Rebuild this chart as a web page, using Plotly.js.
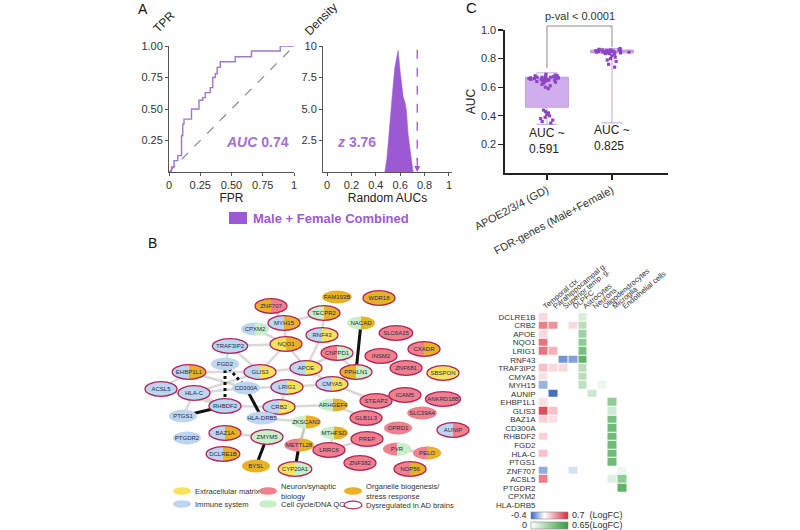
<!DOCTYPE html>
<html><head><meta charset="utf-8">
<script src="https://cdn.plot.ly/plotly-3.0.1.min.js"></script>
<style>html,body{margin:0;padding:0;background:#fff}#chart{width:800px;height:530px}</style>
</head><body><div id="chart"></div>
<script>
// ---------------- Panel A : ROC curve ----------------
const rocFPR = [0, 0.02, 0.04, 0.07, 0.10, 0.11, 0.12, 0.14, 0.18, 0.24, 0.27, 0.29, 0.33, 0.35, 0.37, 0.385, 0.41, 0.53, 0.66, 0.89, 1.0];
const rocTPR = [0, 0.04, 0.09, 0.13, 0.29, 0.38, 0.42, 0.42, 0.50, 0.57, 0.59, 0.63, 0.67, 0.75, 0.78, 0.83, 0.875, 0.915, 0.96, 1.0, 1.0];
const chanceLine = [0, 1];
const rocAUC = 0.74;
// ---------------- Panel A : random AUC density ----------------
const randAUC = [0.474, 0.49, 0.501, 0.515, 0.529, 0.545, 0.556, 0.57, 0.583, 0.60, 0.612, 0.624, 0.64, 0.651, 0.665, 0.68, 0.692, 0.706];
const randDensity = [0, 1.0, 2.2, 4.0, 5.7, 7.2, 8.3, 9.2, 9.66, 8.0, 6.8, 6.0, 5.5, 4.9, 3.0, 1.8, 0.9, 0];
const zScore = 3.76;
// ---------------- Panel C : AUC comparison ----------------
const groupLabels = ['APOE2/3/4 (GD)', 'FDR-genes (Male+Female)'];
const apoeAUC = [0.69,0.685,0.68,0.68,0.675,0.675,0.67,0.67,0.67,0.665,0.665,0.665,0.66,0.66,0.66,0.66,0.655,0.655,0.655,0.65,0.65,0.65,0.645,0.645,0.64,0.64,0.635,0.63,0.62,0.61,0.60,0.59,0.44,0.43,0.42,0.41,0.40,0.39,0.38,0.37,0.36,0.35];
const fdrAUC = [0.87,0.865,0.865,0.86,0.86,0.86,0.86,0.855,0.855,0.855,0.855,0.85,0.85,0.85,0.85,0.85,0.845,0.845,0.845,0.845,0.84,0.84,0.84,0.835,0.835,0.83,0.82,0.81,0.80,0.79,0.78,0.76,0.74];
const boxQ1 = [0.46, 0.84];
const boxMedian = [0.665, 0.85];
const boxQ3 = [0.67, 0.86];
const boxLow = [0.34, 0.35];
const boxHigh = [0.70, 0.87];
const meanAUC = ['0.591', '0.825'];
const pValText = 'p-val < 0.0001';
// ---------------- Panel B : network ----------------
const nodeNames = ['ZNF707','MYH15','CPXM2','NQO1','TRAF3IP2','FGD2','GLIS3','EHBP1L1','APOE','LRIG1','CD300A','ACSL5','HLA-C','CMYA5','RHBDF2','CRB2','ARHGEF4','STEAP2','ICAM5','ANKRD18B','PTGS1','HLA-DRB5','ZKSCAN3','GLB1L3','SLC39A4','OPRD1','AUNIP','BAZ1A','ZMYM5','MTHFSD','PREP','METTL28','LRRC6','PVR','PELO','DCLRE1B','BYSL','CYP20A1','ZNF382','NOP56','FAM193B','WDR18','TECPR2','NACAD','RNF43','SLC6A15','CNPPD1','INSM2','CXADR','PPHLN1','ZNF681','SBSPON','PTGDR2'];
const nodeX = [271,284,255,286,230,225,260,189,306,287,246,161,194,332,225,279,333,376,405,443,183,262,306,366,422,398,453,225,267,334,367,299,329,397,427,223,256,295,360,410,337,379,324,361,322,396,337,381,424,356,406,443,187];
const nodeY = [306,323,329,344,346,364,372,372,368,387,388,389,393,384,406,407,405,401,395,399,416,418,422,418,413,428,430,433,437,433,439,445,450,449,453,454,466,469,463,469,297,298,313,323,335,333,353,356,349,372,368,373,438];
// categories: Y extracellular matrix, I immune, N neuron/synaptic, C cell cycle/DNA QC, O organelle/stress
const nodeCat1 = ['O','I','I','Y','I','I','I','I','I','I','I','I','I','I','I','I','C','N','N','N','I','I','C','N','N','N','I','I','C','C','N','N','N','N','N','I','O','Y','N','N','O','O','C','C','I','N','N','N','N','O','N','Y','I'];
const nodeCat2 = ['N','O','C','O','','','Y','O','Y','Y','','','','Y','','Y','O','','','','','','O','','','','N','O','','O','','O','','C','O','O','','C','','O','','','O','O','Y','','C','','O','C','','',''];
const nodeDysreg = [1,1,0,1,1,0,1,1,1,1,0,1,1,1,1,1,0,1,1,1,0,0,0,1,0,0,1,1,1,0,1,0,1,0,0,1,0,1,1,1,0,1,1,0,1,1,1,1,1,1,1,1,0];
const greyEdges = [['TRAF3IP2','GLIS3'],['TRAF3IP2','FGD2'],['TRAF3IP2','NQO1'],['EHBP1L1','GLIS3'],['EHBP1L1','CD300A'],['EHBP1L1','ACSL5'],['HLA-C','CD300A'],['HLA-C','GLIS3'],['HLA-C','RHBDF2'],['ACSL5','RHBDF2'],['GLIS3','APOE'],['GLIS3','NQO1'],['NQO1','APOE'],['NQO1','MYH15'],['MYH15','TECPR2'],['CPXM2','NQO1'],['APOE','RNF43'],['APOE','CNPPD1'],['APOE','CMYA5'],['LRIG1','CMYA5'],['CRB2','LRIG1'],['CRB2','ARHGEF4'],['CD300A','LRIG1'],['RHBDF2','CRB2'],['PTGS1','HLA-C'],['HLA-DRB5','ZKSCAN3'],['BAZ1A','ZMYM5'],['RNF43','TECPR2'],['CNPPD1','PPHLN1'],['CMYA5','PPHLN1'],['ZKSCAN3','METTL28'],['MTHFSD','LRRC6'],['ARHGEF4','GLB1L3'],['CYP20A1','ZKSCAN3'],['PVR','PELO'],['LRRC6','PREP'],['ZNF707','MYH15'],['CMYA5','STEAP2']];
const blackEdges = [['NACAD','PPHLN1'],['ZMYM5','BYSL'],['METTL28','CYP20A1'],['CD300A','HLA-DRB5'],['RHBDF2','PTGS1']];
const dashedEdges = [['FGD2','RHBDF2'],['FGD2','CD300A']];
const categoryLegend = [['Y','Extracellular matrix'],['I','Immune system'],['N','Neuron/synaptic<br>biology'],['C','Cell cycle/DNA QC'],['O','Organelle biogenesis/<br>stress response'],['D','Dysregulated in AD brains']];
// ---------------- Panel B : heatmap ----------------
const hmGenes = ['DCLRE1B','CRB2','APOE','NQO1','LRIG1','RNF43','TRAF3IP2','CMYA5','MYH15','AUNIP','EHBP1L1','GLIS3','BAZ1A','CD300A','RHBDF2','FGD2','HLA-C','PTGS1','ZNF707','ACSL5','PTGDR2','CPXM2','HLA-DRB5'];
const hmRegions = ['Temporal ctx.','Parahippocampal g.','Superior temp. g.','DLPFC'];
const hmCellTypes = ['Astrocytes','Neurons','Oligodendrocytes','Microglia','Endothelial cells'];
const regionLogFC = [
 [0.12,null,null,null],[0.42,0.35,null,0.12],[0.12,null,null,null],[0.45,null,null,null],[0.45,0.25,null,null],
 [null,null,-0.28,-0.25],[0.2,0.12,0.12,null],[0.1,null,null,null],[-0.2,null,null,null],[null,-0.38,null,null],
 [0.1,null,null,null],[0.58,0.2,null,null],[0.15,0.1,null,null],[null,null,null,null],[0.15,null,null,null],
 [null,null,null,null],[0.2,null,null,null],[null,null,null,null],[-0.22,null,null,-0.08],[0.42,null,null,null],
 [null,null,null,null],[null,null,null,null],[null,null,null,null]];
const cellLogFC = [
 [0.12,null,null,null,null],[0.22,null,null,null,null],[0.3,null,null,null,null],[0.35,null,null,null,null],[0.42,null,null,null,null],
 [0.5,null,null,null,null],[0.22,null,null,null,null],[0.22,null,null,null,null],[0.2,null,0.06,null,null],[null,0.15,null,null,null],
 [null,null,null,0.35,null],[null,null,null,0.15,null],[null,null,null,0.42,null],[null,null,null,0.45,null],[null,null,null,0.45,null],
 [null,null,null,0.45,null],[null,null,null,0.45,null],[null,null,null,0.45,null],[null,null,null,null,0.05],[null,null,null,0.1,0.35],
 [null,null,null,null,0.5],[null,null,null,null,null],[null,null,null,null,null]];

// ================= drawing =================
const W = 800, H = 530;
const px = v => v / W, py = v => 1 - v / H;
const PURPLE = '#9b5ad2';
const FONT = 'Liberation Sans, Arial, sans-serif';
const catColor = {Y:'#f8e45c', I:'#bdd5ef', N:'#f0808b', C:'#c9efc6', O:'#e8b224'};
const idx = n => nodeNames.indexOf(n);

const traces = [];
// ROC
traces.push({x: chanceLine, y: chanceLine, mode:'lines', line:{color:'#8a8a8a', width:1.2, dash:'dash'}, xaxis:'x', yaxis:'y', hoverinfo:'skip'});
traces.push({x: rocFPR, y: rocTPR, mode:'lines', line:{color:'#9d78cf', width:1.4, shape:'hv'}, xaxis:'x', yaxis:'y', cliponaxis:false});
// density
traces.push({x: randAUC, y: randDensity, mode:'lines', fill:'tozeroy', fillcolor:PURPLE, line:{color:PURPLE, width:0.5}, xaxis:'x2', yaxis:'y2'});
traces.push({x:[rocAUC, rocAUC], y:[9.7, 0.9], mode:'lines', line:{color:PURPLE, width:1.3, dash:'dash'}, xaxis:'x2', yaxis:'y2'});
// panel C boxes
for (let i = 0; i < 2; i++) {
  traces.push({type:'box', x:[i], q1:[boxQ1[i]], median:[boxMedian[i]], q3:[boxQ3[i]], lowerfence:[boxLow[i]], upperfence:[boxHigh[i]],
    width:0.66, whiskerwidth:0.5, fillcolor:'rgba(176,118,222,0.6)', line:{color:'#c3a2e0', width:1}, boxpoints:false, xaxis:'x3', yaxis:'y3'});
}
[apoeAUC, fdrAUC].forEach((vals, i) => {
  traces.push({type:'box', y: vals, x0: i, width:0.66, boxpoints:'all', jitter:0.9, pointpos:0,
    marker:{color:'#8d45c6', size:3.2, symbol:'square'}, line:{width:0, color:'rgba(0,0,0,0)'}, fillcolor:'rgba(0,0,0,0)',
    xaxis:'x3', yaxis:'y3'});
});
// network labels
traces.push({x: nodeX, y: nodeY, text: nodeNames, mode:'text', textfont:{size:6, color:'#1e2a52', family:FONT}, xaxis:'x4', yaxis:'y4', hoverinfo:'skip', cliponaxis:false});
// heatmaps
traces.push({type:'heatmap', x: hmRegions, y: hmGenes, z: regionLogFC, zmin:-0.4, zmax:0.7, xgap:1, ygap:1,
  colorscale:[[0,'#3a68bd'],[0.364,'#ffffff'],[1,'#d8293c']], xaxis:'x5', yaxis:'y5',
  colorbar:{orientation:'h', x:px(531), xanchor:'left', y:py(511.5), yanchor:'top', lenmode:'pixels', len:37, thickness:7, showticklabels:false, ticks:'', outlinewidth:0.6, outlinecolor:'#888', xpad:0, ypad:0}});
traces.push({type:'heatmap', x: hmCellTypes, y: hmGenes, z: cellLogFC, zmin:0, zmax:0.65, xgap:1, ygap:1,
  colorscale:[[0,'#ffffff'],[1,'#2f9e3b']], xaxis:'x5', yaxis:'y5',
  colorbar:{orientation:'h', x:px(531), xanchor:'left', y:py(521.5), yanchor:'top', lenmode:'pixels', len:37, thickness:7, showticklabels:false, ticks:'', outlinewidth:0.6, outlinecolor:'#888', xpad:0, ypad:0}});

// ----- shapes -----
const shapes = [];
function edgeShapes(list, color, width, dash) {
  list.forEach(([a, b]) => {
    const i = idx(a), j = idx(b);
    shapes.push({type:'line', xref:'x4', yref:'y4', x0:nodeX[i], y0:nodeY[i], x1:nodeX[j], y1:nodeY[j], layer:'below', line:{color, width, dash}});
  });
}
edgeShapes(greyEdges, 'rgba(170,170,170,0.45)', 2.5, 'solid');
edgeShapes(blackEdges, '#111', 3, 'solid');
edgeShapes(dashedEdges, '#111', 3, 'dot');
const K = 0.5523;
nodeNames.forEach((n, i) => {
  const cx = nodeX[i], cy = nodeY[i];
  const d = nodeDysreg[i];
  const rx = (d ? 16 : 14) + Math.max(0, n.length - 6) * 0.8, ry = d ? 7.3 : 6.5;
  shapes.push({type:'circle', xref:'x4', yref:'y4', x0:cx-rx, x1:cx+rx, y0:cy-ry, y1:cy+ry, layer:'below', fillcolor:catColor[nodeCat1[i]], line:{width:0}});
  if (nodeCat2[i]) {
    const path = `M${cx},${cy-ry} C${cx+K*rx},${cy-ry} ${cx+rx},${cy-K*ry} ${cx+rx},${cy} C${cx+rx},${cy+K*ry} ${cx+K*rx},${cy+ry} ${cx},${cy+ry} Z`;
    shapes.push({type:'path', xref:'x4', yref:'y4', path, layer:'below', fillcolor:catColor[nodeCat2[i]], line:{width:0}});
  }
  if (d) shapes.push({type:'circle', xref:'x4', yref:'y4', x0:cx-rx, x1:cx+rx, y0:cy-ry, y1:cy+ry, layer:'below', fillcolor:'rgba(0,0,0,0)', line:{color:'#b0245a', width:1.3}});
});
// legend of panel A
shapes.push({type:'rect', xref:'paper', yref:'paper', x0:px(229), x1:px(247), y0:py(224), y1:py(212), fillcolor:PURPLE, line:{width:0}});
// bracket panel C
shapes.push({type:'line', xref:'x3', yref:'paper', x0:0, x1:1, y0:py(26), y1:py(26), line:{color:'#8a8a8a', width:1}});
shapes.push({type:'line', xref:'x3', yref:'paper', x0:0, x1:0, y0:py(26), y1:py(68), line:{color:'#8a8a8a', width:1}});
shapes.push({type:'line', xref:'x3', yref:'paper', x0:1, x1:1, y0:py(26), y1:py(47), line:{color:'#8a8a8a', width:1}});

// ----- annotations -----
const ann = [];
const A = (text, x, y, opt) => ann.push(Object.assign({text, x:px(x), y:py(y), xref:'paper', yref:'paper', xanchor:'center', yanchor:'middle', showarrow:false, font:{family:FONT, size:12, color:'#222'}}, opt || {}));
A('A', 143, 9, {font:{family:FONT, size:14, color:'#111'}});
A('B', 152, 243, {font:{family:FONT, size:14, color:'#111'}});
A('C', 471, 8, {font:{family:FONT, size:15, color:'#111'}});
A('TPR', 164, 22, {textangle:-45});
A('Density', 321, 19, {textangle:-45});
A('<b><i>AUC</i> ' + rocAUC.toFixed(2) + '</b>', 291, 142, {xanchor:'right', font:{family:FONT, size:14, color:'#a56fd6'}});
A('<b><i>z</i> ' + zScore.toFixed(2) + '</b>', 335, 142, {xanchor:'left', font:{family:FONT, size:14, color:'#a56fd6'}});
A('<b>Male + Female Combined</b>', 251, 218, {xanchor:'left', font:{family:FONT, size:13, color:'#9b5ad2'}});
ann.push({x:rocAUC, y:0, xref:'x2', yref:'y2', ax:rocAUC, ay:1.2, axref:'x2', ayref:'y2', showarrow:true, arrowhead:2, arrowsize:1, arrowwidth:1.2, arrowcolor:PURPLE, text:''});
// panel C
A(pValText, 580, 16, {font:{family:FONT, size:11, color:'#333'}});
[0, 1].forEach(i => ann.push({text:'AUC ~<br>' + meanAUC[i], x:i, xref:'x3', y:py(i ? 138 : 141), yref:'paper', yanchor:'middle', showarrow:false, align:'left', xanchor:'center', font:{family:FONT, size:12, color:'#222'}}));
// network legend
const legPos = [[182,491],[182,504],[268,491],[268,504],[353,491],[353,505]];
categoryLegend.forEach(([c, label], k) => {
  const [lx, ly] = legPos[k];
  shapes.push({type:'circle', xref:'paper', yref:'paper', x0:px(lx-9), x1:px(lx+9), y0:py(ly+3.8), y1:py(ly-3.8),
    fillcolor: c === 'D' ? '#ffffff' : catColor[c], line: c === 'D' ? {color:'#b0245a', width:1.2} : {width:0}});
  A(label, lx + 11, label.includes('<br>') ? ly + 0.5 : ly + 0.5, {xanchor:'left', align:'left', font:{family:FONT, size:7.6, color:'#333'}});
});
// heatmap colorbar labels
const HF = 'Liberation Sans, Arial, sans-serif';
A('-0.4', 529, 515, {xanchor:'right', font:{family:HF, size:9, color:'#333'}});
A('0.7  (LogFC)', 570, 515, {xanchor:'left', font:{family:HF, size:9, color:'#333'}});
A('0', 529, 524.5, {xanchor:'right', font:{family:HF, size:9, color:'#333'}});
A('0.65(LogFC)', 570, 524.5, {xanchor:'left', font:{family:HF, size:9, color:'#333'}});

const axA = {showgrid:false, zeroline:false, showline:true, linecolor:'#555', linewidth:1, ticks:'outside', ticklen:3, tickcolor:'#555', tickfont:{family:FONT, size:11, color:'#333'}, fixedrange:true};
const layout = {
  width: W, height: H, margin:{l:0, r:0, t:0, b:0}, paper_bgcolor:'#fff', plot_bgcolor:'rgba(0,0,0,0)',
  showlegend:false, boxmode:'overlay', font:{family:FONT},
  xaxis: Object.assign({}, axA, {domain:[px(169), px(294)], range:[0, 1], anchor:'y', tickvals:[0,0.25,0.5,0.75,1], ticktext:['0','0.25','0.50','0.75','1'],
    title:{text:'FPR', font:{family:FONT, size:12, color:'#222'}, standoff:2}}),
  yaxis: Object.assign({}, axA, {domain:[py(172), py(46)], range:[0, 1], anchor:'x', tickvals:[0.25,0.5,0.75,1], ticktext:['0.25','0.50','0.75','1.00']}),
  xaxis2: Object.assign({}, axA, {domain:[px(323), px(452)], range:[-0.033, 1.025], anchor:'y2', tickvals:[0,0.2,0.4,0.6,0.8,1], ticktext:['0','0.2','0.4','0.6','0.8','1'],
    title:{text:'Random AUCs', font:{family:FONT, size:12, color:'#222'}, standoff:2}}),
  yaxis2: Object.assign({}, axA, {domain:[py(172), py(46)], range:[0, 10], anchor:'x2', tickvals:[2.5,5,7.5,10], ticktext:['2.5','5.0','7.5','10']}),
  xaxis3: Object.assign({}, axA, {domain:[px(505), px(668)], range:[-0.646, 1.862], anchor:'y3', tickvals:[0,1], ticktext:groupLabels, tickangle:-28,
    linecolor:'#222', linewidth:1.6, tickcolor:'#222', tickwidth:1.6, ticklen:5}),
  yaxis3: Object.assign({}, axA, {domain:[py(173), py(30)], range:[0, 1.0], anchor:'x3', tickvals:[0.2,0.4,0.6,0.8,1.0], ticktext:['0.2','0.4','0.6','0.8','1.0'],
    linecolor:'#222', linewidth:1.6, tickcolor:'#222', tickwidth:1.3, ticklen:5, title:{text:'AUC', font:{family:FONT, size:12, color:'#222'}, standoff:3}}),
  xaxis4: {domain:[px(140), px(470)], range:[140, 470], anchor:'y4', visible:false, fixedrange:true},
  yaxis4: {domain:[py(482), py(285)], range:[482, 285], anchor:'x4', visible:false, fixedrange:true},
  xaxis5: {domain:[px(538.5), px(627.5)], type:'category', categoryorder:'array', categoryarray: hmRegions.concat(hmCellTypes), anchor:'y5', side:'top',
    tickmode:'array', tickvals: hmRegions.concat(hmCellTypes), ticktext: hmRegions.concat(hmCellTypes),
    tickangle:-40, ticks:'', showgrid:false, zeroline:false, showline:false, tickfont:{family:HF, size:7.5, color:'#333'}, fixedrange:true},
  yaxis5: {domain:[py(509.3), py(312.7)], type:'category', categoryorder:'array', categoryarray: hmGenes, autorange:'reversed', anchor:'x5',
    tickmode:'array', tickvals: hmGenes, ticktext: hmGenes, ticklabelstandoff:2,
    ticks:'', showgrid:false, zeroline:false, showline:false, tickfont:{family:HF, size:8, color:'#333'}, fixedrange:true},
  shapes, annotations: ann
};
Plotly.newPlot('chart', traces, layout, {displayModeBar:false, staticPlot:true});
</script></body></html>
